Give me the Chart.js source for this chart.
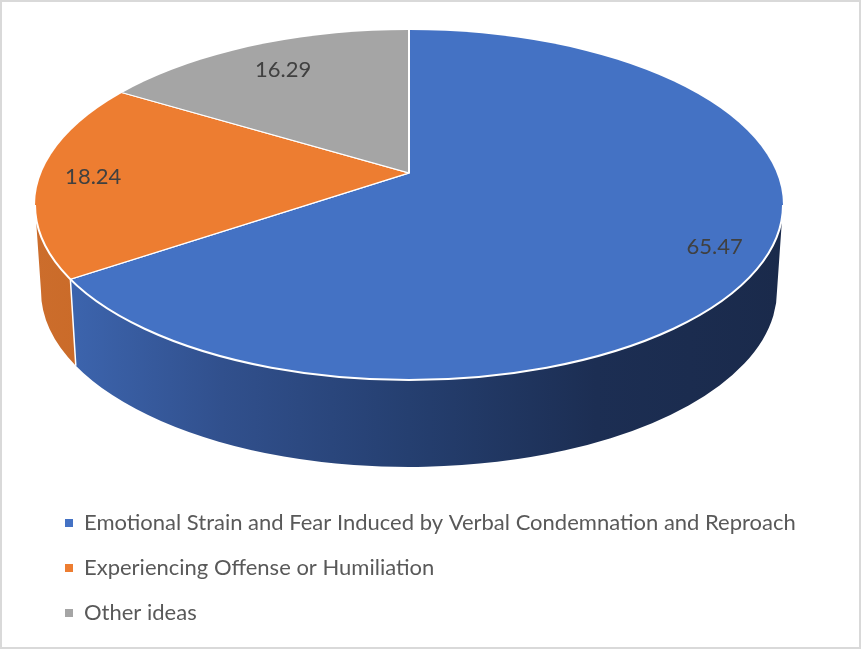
<!DOCTYPE html>
<html>
<head>
<meta charset="utf-8">
<script src="https://cdn.jsdelivr.net/npm/chart.js@4.4.1/dist/chart.umd.min.js"></script>
<style>
  html, body { margin: 0; padding: 0; background: #fff; }
  #wrap { position: relative; width: 861px; height: 650px; }
  #frame {
    position: absolute; left: 0; top: 0; width: 861px; height: 649px;
    box-sizing: border-box; border: 2px solid #d9d9d9; pointer-events: none;
  }
</style>
</head>
<body>
<div id="wrap">
  <canvas id="pieChart" width="861" height="650"></canvas>
  <div id="frame"></div>
</div>
<script>
// Slices, clockwise from 12 o'clock
const categories = [
  'Emotional Strain and Fear Induced by Verbal Condemnation and Reproach',
  'Experiencing Offense or Humiliation',
  'Other ideas'
];
const shares = [65.47, 18.24, 16.29];

// Top colours and the shading of the visible rim
const faceColors = ['#4472c4', '#ed7d31', '#a5a5a5'];
const sideColors = [
  ['#3f69b5', '#31508d', '#253f70', '#1c2e53', '#1a2a4b'],
  ['#cc6d2c', '#c5641f', '#bf5d1b', '#b9581a', '#b35418'],
  ['#8c8c8c', '#7d7d7d', '#6e6e6e', '#606060', '#555555']
];

// 3D look: where slices meet, how flat the disc is, outline of top and bottom
const APEX = { x: 409, y: 173 };
const TILT = 0.46;
const RIM = { x: 409, y: 205, a: 374, b: 175 };
const BASE = { x: 409, y: 291, a: 368, b: 176 };
// how far out each value label sits (share of the way to the rim)
const labelReach = [0.86, 0.855, 0.81];

// direction of an arc angle once the disc is tilted
function dir(angle) {
  return { x: Math.cos(angle), y: TILT * Math.sin(angle) };
}

// distance from the apex to the rim along an arc angle
function rimDistance(angle) {
  const d = dir(angle);
  const px = (APEX.x - RIM.x) / RIM.a, py = (APEX.y - RIM.y) / RIM.b;
  const qx = d.x / RIM.a, qy = d.y / RIM.b;
  const A = qx * qx + qy * qy, B = 2 * (px * qx + py * qy), C = px * px + py * py - 1;
  return (-B + Math.sqrt(B * B - 4 * A * C)) / (2 * A);
}

// ellipse parameter of the rim point hit by an arc angle
function rimParam(angle) {
  const d = dir(angle), s = rimDistance(angle);
  const x = APEX.x + s * d.x, y = APEX.y + s * d.y;
  return Math.atan2((y - RIM.y) / RIM.b, (x - RIM.x) / RIM.a);
}

// front parts [u1,u2] of a slice's rim (the half facing us)
function frontSpans(arc) {
  let u1 = rimParam(arc.startAngle), u2 = rimParam(arc.endAngle);
  if (u2 <= u1) u2 += Math.PI * 2;
  const spans = [];
  [0, Math.PI * 2, -Math.PI * 2].forEach(shift => {
    const lo = Math.max(u1, shift), hi = Math.min(u2, shift + Math.PI);
    if (hi > lo) spans.push([lo - shift, hi - shift]);
  });
  return spans;
}

const pie3d = {
  id: 'pie3d',
  beforeDatasetsDraw(chart) {
    const ctx = chart.ctx;
    const arcs = chart.getDatasetMeta(0).data;

    // side walls
    arcs.forEach((arc, i) => {
      const grad = ctx.createLinearGradient(RIM.x - RIM.a, 0, RIM.x + RIM.a, 0);
      sideColors[i].forEach((c, k) => grad.addColorStop(k / (sideColors[i].length - 1), c));
      frontSpans(arc).forEach(([u1, u2]) => {
        ctx.beginPath();
        ctx.ellipse(RIM.x, RIM.y, RIM.a, RIM.b, 0, u1, u2);
        ctx.ellipse(BASE.x, BASE.y, BASE.a, BASE.b, 0, u2, u1, true);
        ctx.closePath();
        ctx.fillStyle = grad;
        ctx.fill();
      });
    });

    // top face: the arcs are drawn squashed round the apex, cut to the rim
    const a0 = arcs[0];
    ctx.save();
    ctx.beginPath();
    ctx.ellipse(RIM.x, RIM.y, RIM.a, RIM.b, 0, 0, Math.PI * 2);
    ctx.clip();
    ctx.translate(APEX.x, APEX.y);
    ctx.scale(1, TILT);
    ctx.translate(-a0.x, -a0.y);
  },
  afterDatasetsDraw(chart) {
    const ctx = chart.ctx;
    ctx.restore();
    const arcs = chart.getDatasetMeta(0).data;

    // white edge on the front rim
    ctx.save();
    ctx.strokeStyle = '#ffffff';
    ctx.lineWidth = 2;
    ctx.beginPath();
    ctx.ellipse(RIM.x, RIM.y, RIM.a, RIM.b, 0, 0, Math.PI);
    ctx.stroke();

    // white seams between slices on the side
    ctx.lineWidth = 1.5;
    arcs.forEach(arc => {
      const u = rimParam(arc.startAngle);
      if (u > 0.01 && u < Math.PI - 0.01) {
        ctx.beginPath();
        ctx.moveTo(RIM.x + RIM.a * Math.cos(u), RIM.y + RIM.b * Math.sin(u));
        ctx.lineTo(BASE.x + BASE.a * Math.cos(u), BASE.y + BASE.b * Math.sin(u));
        ctx.stroke();
      }
    });

    // value labels
    ctx.fillStyle = '#404040';
    ctx.font = '22px Lato';
    ctx.textAlign = 'center';
    ctx.textBaseline = 'middle';
    arcs.forEach((arc, i) => {
      const mid = (arc.startAngle + arc.endAngle) / 2;
      const d = dir(mid), s = rimDistance(mid) * labelReach[i];
      ctx.fillText(shares[i].toFixed(2), APEX.x + s * d.x, APEX.y + s * d.y);
    });
    ctx.restore();
  }
};

const ctx = document.getElementById('pieChart').getContext('2d');
const pieChart = new Chart(ctx, {
  type: 'pie',
  data: {
    labels: categories,
    datasets: [{
      data: shares,
      backgroundColor: faceColors,
      borderColor: '#ffffff',
      borderWidth: 2,
      radius: 500,
      clip: false
    }]
  },
  options: {
    responsive: false,
    animation: false,
    layout: { padding: { left: 42, top: 0, right: 0, bottom: 3 } },
    plugins: {
      legend: {
        position: 'chartArea',
        align: 'end',
        labels: {
          boxWidth: 8,
          boxHeight: 8,
          padding: 23,
          color: '#595959',
          font: { family: 'Lato', size: 22 },
          generateLabels: (chart) =>
            Chart.overrides.doughnut.plugins.legend.labels.generateLabels(chart)
              .map(item => ({ ...item, lineWidth: 0 }))
        }
      },
      tooltip: { enabled: false }
    }
  },
  plugins: [pie3d]
});
</script>
</body>
</html>
